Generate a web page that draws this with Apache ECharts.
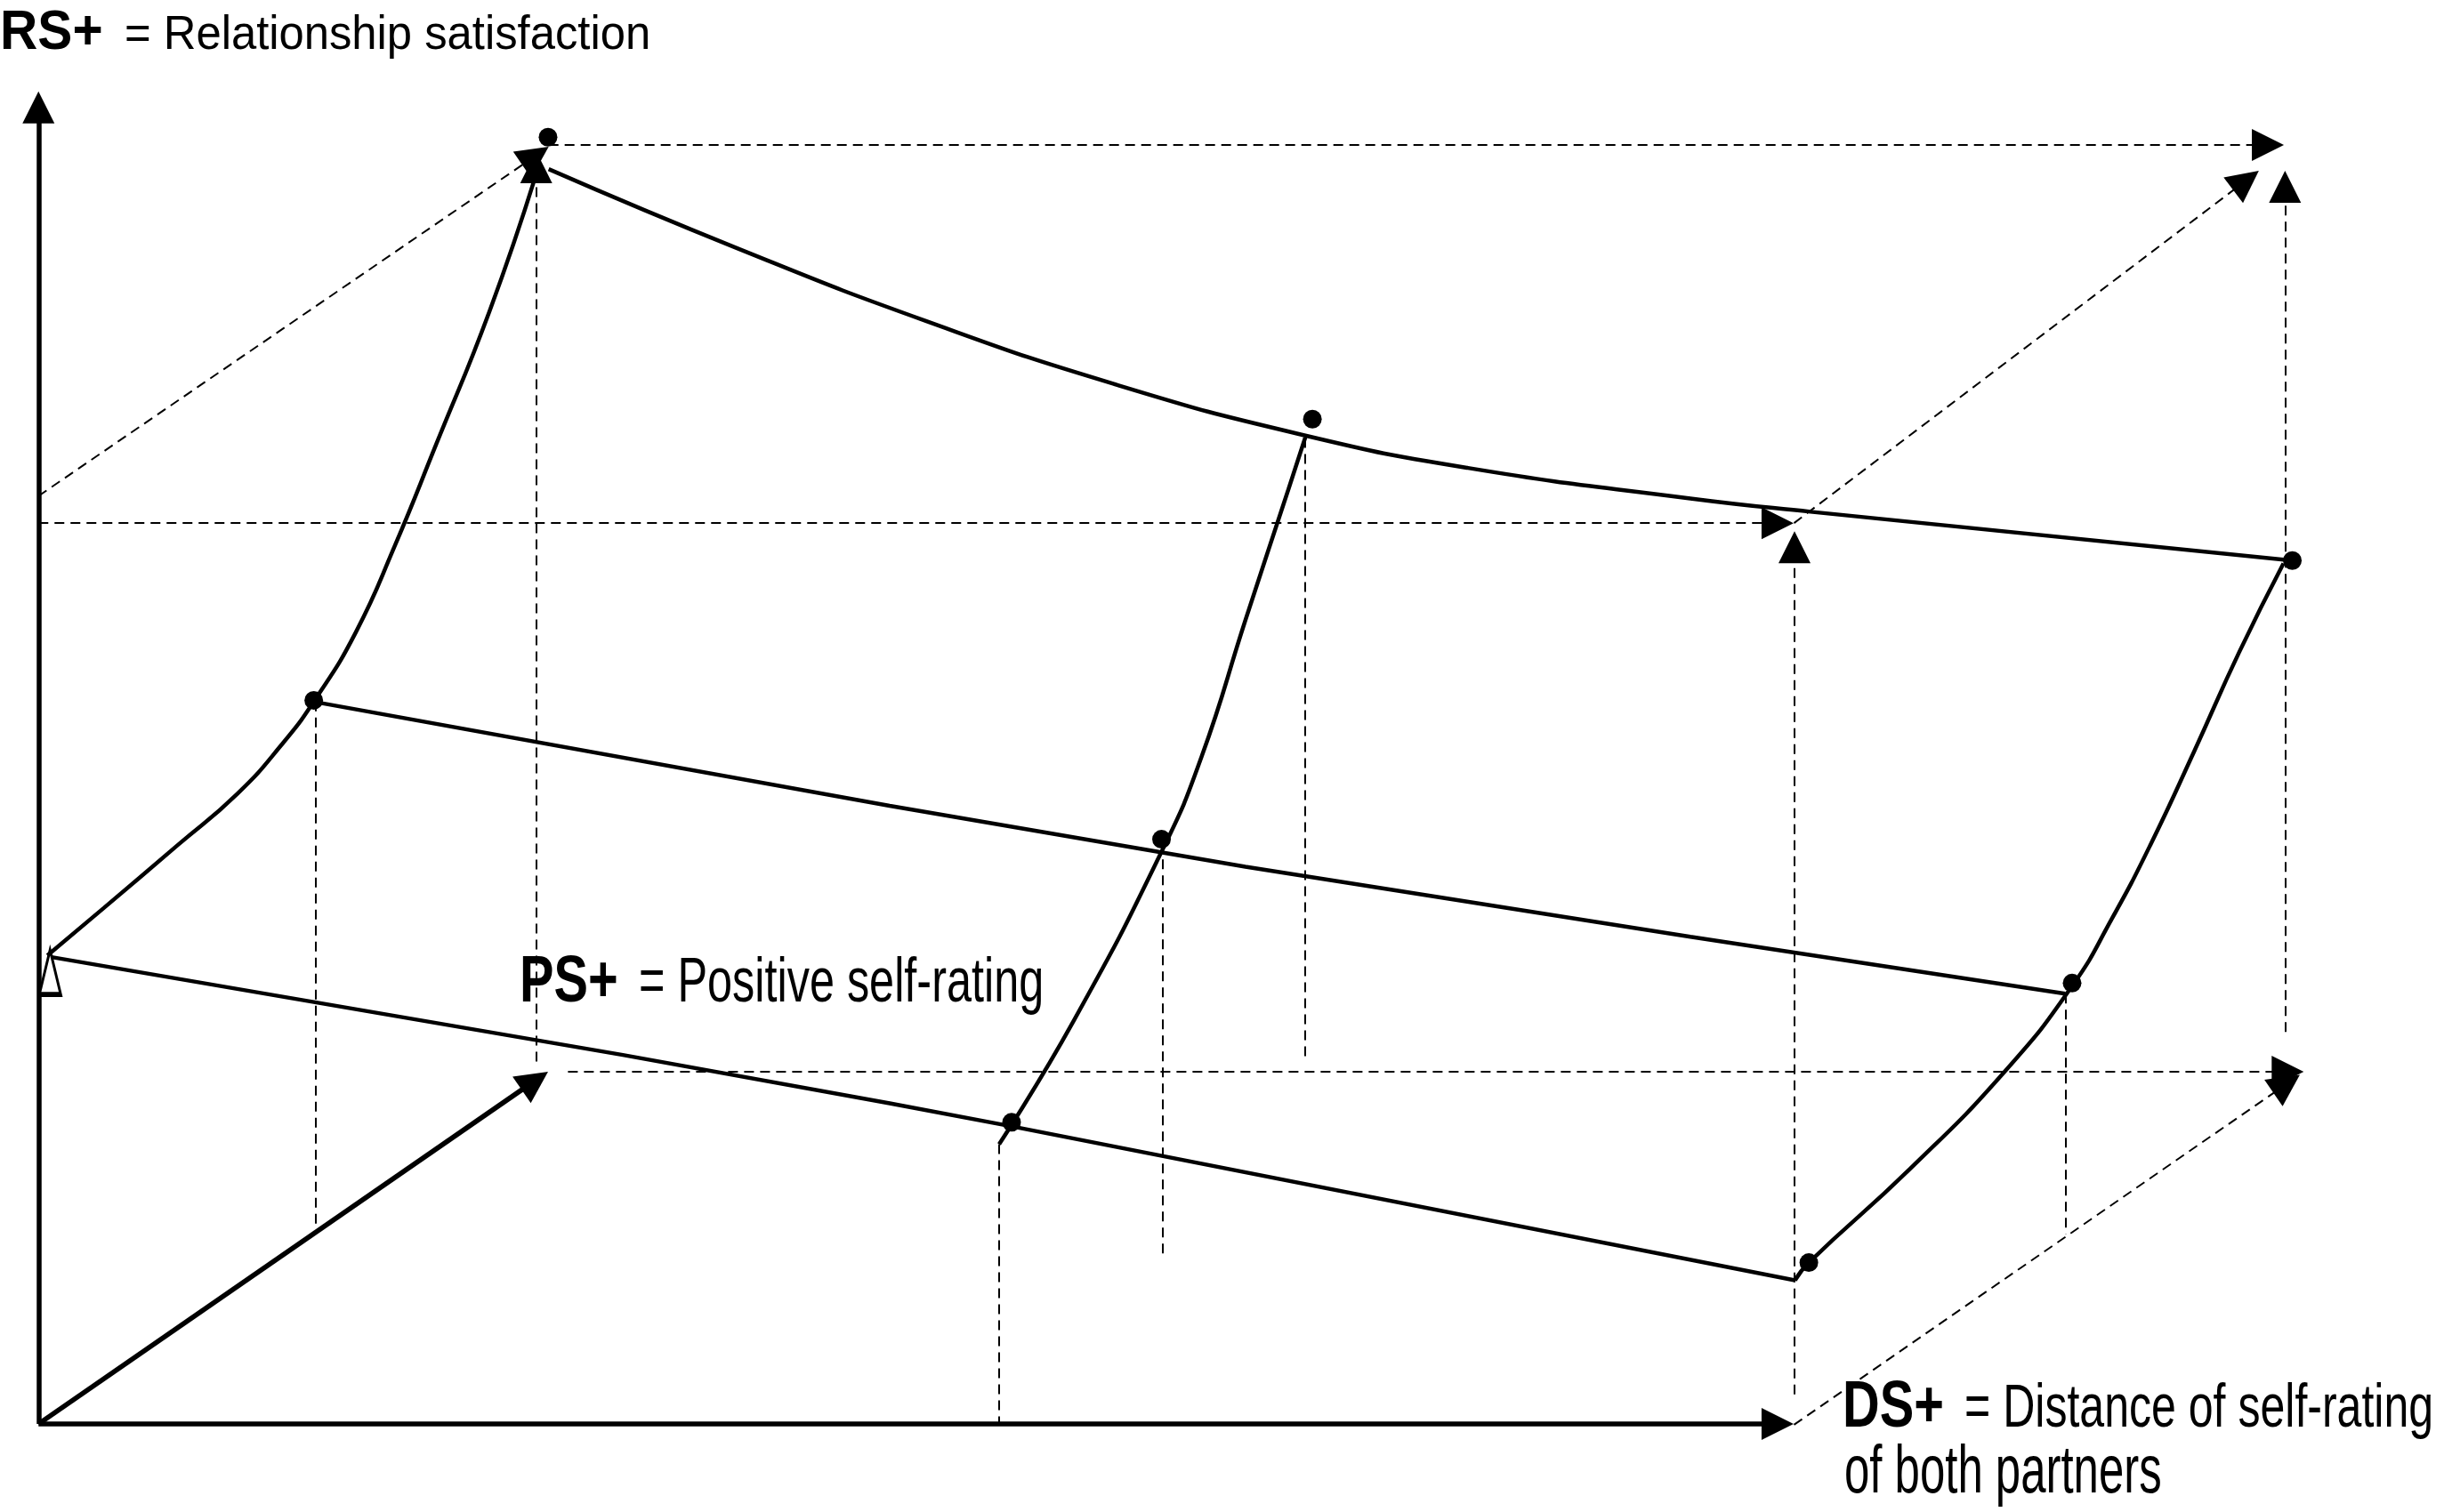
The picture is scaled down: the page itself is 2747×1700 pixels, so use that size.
<!DOCTYPE html>
<html>
<head>
<meta charset="utf-8">
<title>RS / PS / DS surface</title>
<script src="https://cdn.jsdelivr.net/npm/echarts@6/dist/echarts.min.js"></script>
<style>
  html, body { margin: 0; padding: 0; background: #fff; }
  #chart { width: 2747px; height: 1700px; }
</style>
</head>
<body>
<div id="chart"></div>
<script>
// sheet units: 1568 wide, 970 high, y grows downwards

// the three solid axes, [origin, tip]
const axisArrows = [
  [[24.7, 913.5], [24.7, 58.6]],    // RS+
  [[24.7, 913.5], [1150.7, 913.5]], // DS+
  [[24.7, 913.5], [351.6, 687.5]]   // PS+
];

// dashed box edges ending in an arrow, [start, tip]
const dashedArrows = [
  [[352, 93], [1465.3, 93]],
  [[24.7, 318.2], [352, 94.2]],
  [[344, 681], [344, 97]],
  [[24.7, 335.6], [1150.7, 335.6]],
  [[1151, 335.6], [1449.2, 109.6]],
  [[1151.3, 894.5], [1151.3, 340.8]],
  [[1466, 662], [1466, 109.6]],
  [[364.4, 687.5], [1478, 687.5]],
  [[1151, 914], [1475.5, 689.5]]
];

// dashed drop lines from the surface
const dropLines = [
  [[202.5, 450], [202.5, 788]],
  [[641, 734], [641, 913]],
  [[746, 541], [746, 805.5]],
  [[837, 281], [837, 680]],
  [[1325, 637.5], [1325, 791.7]]
];

// surface curves along PS+
const leftCurve = [[30.4, 613], [66.6, 582.5], [114.2, 542], [152.2, 509.3], [180.8, 477.6], [202, 449],
  [228.3, 405.6], [253, 350.9], [279.7, 285.4], [314, 199.8], [343.4, 113.6]];
const midCurve = [[641, 734], [688, 656.4], [746, 544.8], [771, 485.2], [799.3, 397], [826.6, 314], [837.4, 280.7]];
const rightCurve = [[1151.6, 821.4], [1160.5, 810], [1225.3, 750], [1286.7, 686.8], [1330, 631.7], [1354.7, 589.8],
  [1379.5, 542.3], [1408, 481.4], [1436.5, 418.6], [1465, 361.5]];

// surface lines along DS+
const backCurve = [[352, 108.5], [474, 159.7], [594, 205.9], [714.6, 246.3], [834.5, 278.7], [941.8, 300.2],
  [1084.5, 319.8], [1161.6, 328.3], [1470.7, 359.6]];
const midLine = [[202.5, 450.4], [570.8, 517], [799, 556], [1084.5, 601], [1325, 637.5]];
const frontLine = [[30.6, 613.6], [399.6, 676.8], [570.8, 707.8], [649, 722.6], [1151.6, 821.4]];

// measured points and the open marker at the RS+ axis
const dots = [[351.6, 88], [842, 268.9], [1470.7, 359.6], [201.3, 449.3], [745.2, 538.4],
  [1329.4, 630.7], [649, 720], [1160.5, 810]];
const openMarker = [[32.1, 623.7]];

// axis captions: [text, bold?]
const captions = [
  ['RS+', true], ['= Relationship satisfaction', false],
  ['PS+', true], ['= Positive self-rating', false],
  ['DS+', true], ['= Distance of self-rating', false], ['of both partners', false]
];

const FONT = '"Liberation Sans", Arial, sans-serif';
const ARROW = 36;                     // arrow head size, px
const ARROW_BACK = ARROW / 2 / 1.752; // half a head in sheet units

// lines symbols sit centred on the end point, so pull the end back by half a head
function toArrow(seg) {
  const [a, b] = seg;
  const dx = b[0] - a[0], dy = b[1] - a[1];
  const len = Math.sqrt(dx * dx + dy * dy);
  return { coords: [a, [b[0] - dx / len * ARROW_BACK, b[1] - dy / len * ARROW_BACK]] };
}

function curve(data, smooth) {
  return {
    type: 'line', data: data, smooth: smooth, showSymbol: false, silent: true,
    lineStyle: { color: '#000', width: 4.5 }, z: 3
  };
}

// the source used a condensed face, so squeeze Liberation Sans to the same boxes
const captionLayout = [
  { x: 0, y: 37.5, size: 63, sx: 0.93 },
  { x: 140, y: 40, size: 54, sx: 0.94 },
  { x: 584, y: 1105, size: 75, sx: 0.77 },
  { x: 718, y: 1106.7, size: 70, sx: 0.72 },
  { x: 2071, y: 1583, size: 75, sx: 0.77 },
  { x: 2208, y: 1585.5, size: 68, sx: 0.736 },
  { x: 2073, y: 1657, size: 76, sx: 0.67 }
];

const graphic = captions.map(([text, bold], i) => {
  const l = captionLayout[i];
  return {
    type: 'text', x: l.x, y: l.y, scaleX: l.sx, silent: true,
    style: {
      text: text,
      font: (bold ? 'bold ' : '') + l.size + 'px ' + FONT,
      fill: '#000',
      align: 'left', verticalAlign: 'middle',
      textAlign: 'left', textVerticalAlign: 'middle'
    }
  };
});

const chart = echarts.init(document.getElementById('chart'));
chart.setOption({
  backgroundColor: '#fff',
  animation: false,
  grid: { left: 0, right: 0, top: 0, bottom: 0 },
  xAxis: { type: 'value', min: 0, max: 1568, show: false },
  yAxis: { type: 'value', min: 0, max: 970, inverse: true, show: false },
  graphic: graphic,
  series: [
    {
      type: 'lines', coordinateSystem: 'cartesian2d', silent: true, z: 2,
      symbol: ['none', 'triangle'], symbolSize: ARROW,
      lineStyle: { color: '#000', width: 2, type: [11, 7], opacity: 1 },
      data: dashedArrows.map(toArrow)
    },
    {
      type: 'lines', coordinateSystem: 'cartesian2d', silent: true, z: 2,
      symbol: 'none',
      lineStyle: { color: '#000', width: 2, type: [11, 7], opacity: 1 },
      data: dropLines.map(s => ({ coords: s }))
    },
    {
      type: 'lines', coordinateSystem: 'cartesian2d', silent: true, z: 4,
      symbol: ['none', 'triangle'], symbolSize: ARROW,
      lineStyle: { color: '#000', width: 5.5, opacity: 1 },
      data: axisArrows.map(toArrow)
    },
    curve(leftCurve, 0.5),
    curve(midCurve, 0.5),
    curve(rightCurve, 0.5),
    curve(backCurve, 0.5),
    curve(midLine, false),
    curve(frontLine, false),
    {
      type: 'scatter', data: dots, symbol: 'circle', symbolSize: 21, silent: true, z: 5,
      itemStyle: { color: '#000', opacity: 1 }
    },
    {
      type: 'scatter', data: openMarker, symbol: 'triangle', symbolSize: [24, 50], silent: true, z: 5,
      itemStyle: { color: '#fff', borderColor: '#000', borderWidth: 4, opacity: 1 }
    }
  ]
});
</script>
</body>
</html>
